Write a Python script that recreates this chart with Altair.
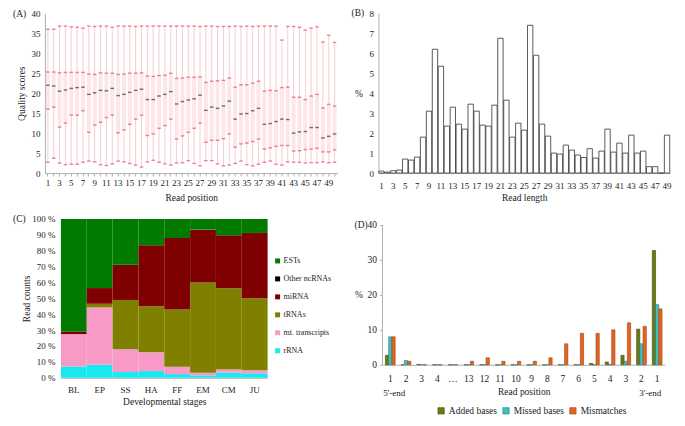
import altair as alt
import pandas as pd

FONT = "Liberation Serif"

# ---------------- Panel A: quality scores per read position ----------------
positions = list(range(1, 51))
q_max = [36.0, 36.0, 36.8, 36.8, 36.6, 36.5, 36.3, 36.8, 36.7, 36.8,
         36.8, 36.5, 36.8, 36.8, 36.8, 36.7, 36.8, 36.8, 36.8, 36.8,
         36.8, 36.8, 36.8, 36.8, 36.8, 36.8, 36.7, 36.8, 36.8, 36.7,
         36.7, 36.7, 36.8, 36.7, 36.8, 36.7, 36.8, 36.8, 36.8, 36.8,
         33.3, 36.7, 36.7, 36.5, 35.8, 36.3, 36.6, 32.8, 34.5, 32.7]
q_q3 = [25.3, 25.3, 25.1, 25.2, 25.2, 25.2, 25.2, 24.8, 24.7, 25.1,
        25.0, 25.0, 24.7, 24.8, 25.0, 25.0, 25.1, 24.3, 24.2, 24.4,
        24.5, 25.0, 23.7, 23.8, 24.0, 24.0, 24.1, 22.7, 23.0, 23.1,
        23.2, 23.8, 21.5, 22.1, 22.1, 22.5, 23.0, 20.5, 20.7, 20.6,
        21.4, 21.5, 19.0, 19.0, 18.4, 19.3, 19.7, 16.3, 17.2, 16.8]
q_med = [22.0, 21.8, 20.5, 20.8, 21.2, 21.4, 21.5, 19.7, 20.1, 20.7,
         20.6, 21.2, 19.4, 19.7, 20.2, 20.7, 21.0, 18.4, 18.4, 19.3,
         19.7, 20.4, 17.3, 17.9, 18.3, 18.6, 19.5, 15.7, 16.5, 16.2,
         16.8, 18.0, 13.5, 14.8, 14.9, 15.6, 16.2, 12.2, 12.4, 12.9,
         13.5, 13.4, 10.0, 10.3, 10.4, 11.4, 11.4, 8.8, 9.2, 9.8]
q_q1 = [16.0, 16.5, 11.5, 12.5, 14.5, 14.5, 15.6, 10.2, 12.0, 12.7,
        13.9, 14.5, 10.1, 10.8, 12.2, 13.5, 14.5, 9.4, 9.8, 11.2,
        11.9, 13.5, 8.5, 9.3, 10.2, 11.2, 12.5, 7.7, 8.2, 8.2,
        8.6, 9.8, 6.5, 7.3, 7.5, 7.9, 8.5, 6.0, 6.3, 6.7,
        6.9, 6.9, 5.5, 5.6, 5.9, 6.0, 6.2, 5.3, 5.3, 5.8]
q_min = [2.7, 3.7, 2.5, 2.1, 2.2, 2.2, 2.7, 3.0, 2.8, 2.1,
         1.9, 2.3, 3.0, 2.8, 2.4, 2.0, 1.5, 2.8, 3.2, 2.7,
         2.3, 2.0, 2.5, 2.6, 3.1, 2.4, 1.8, 3.1, 3.1, 2.3,
         1.8, 2.0, 2.4, 3.0, 2.1, 1.8, 2.2, 2.7, 3.0, 2.2,
         2.0, 2.8, 2.7, 2.7, 2.5, 2.6, 2.6, 2.8, 2.6, 2.7]

# ---------------- Panel B: read length distribution ----------------
lengths = list(range(1, 50))
length_pct = [0.1, 0.05, 0.12, 0.15, 0.7, 0.65, 0.8, 1.8, 3.1, 6.2,
              5.35, 2.35, 3.3, 2.45, 2.2, 3.45, 3.1, 2.4, 2.35, 3.4,
              6.75, 3.65, 1.8, 2.5, 2.15, 7.4, 5.9, 2.45, 1.85, 1.0,
              0.95, 1.4, 1.15, 0.9, 0.78, 1.22, 0.75, 1.1, 2.2, 1.05,
              1.5, 1.0, 1.9, 1.0, 1.1, 0.32, 0.32, 0.0, 1.9]

# ---------------- Panel C: read classes per developmental stage ----------------
stages = ["BL", "EP", "SS", "HA", "FF", "EM", "CM", "JU"]
classes = ["ESTs", "Other ncRNAs", "miRNA", "tRNAs", "mt. transcripts", "rRNA"]
class_colors = ["#007A00", "#000000", "#7F0000", "#808000", "#F79AC8", "#18E8F0"]
rRNA = [7.1, 8.2, 3.6, 4.2, 2.3, 1.5, 3.2, 2.8]
mt_transcripts = [20.4, 36.1, 14.4, 11.8, 4.7, 1.7, 2.0, 1.9]
tRNAs = [0.0, 2.3, 31.0, 29.0, 36.0, 56.8, 51.1, 45.3]
miRNA = [1.5, 9.9, 22.2, 38.4, 45.0, 33.3, 33.4, 41.2]
other_ncRNAs = [0.0, 0.0, 0.0, 0.0, 0.0, 0.0, 0.0, 0.0]
ESTs = [71.0, 43.5, 28.8, 16.6, 12.0, 6.7, 10.3, 8.8]

# ---------------- Panel D: modifications per read position ----------------
d_keys = ["a1", "a2", "a3", "a4", "a…", "b13", "b12", "b11", "b10", "b9",
          "b8", "b7", "b6", "b5", "b4", "b3", "b2", "b1"]
d_series = ["Added bases", "Missed bases", "Mismatches"]
d_colors = ["#6B7A12", "#40C0C0", "#E8641E"]
d_strokes = ["#3F4A08", "#1F7F7F", "#9A3E0E"]
added = [2.7, 0.0, 0.1, 0.0, 0.0, 0.0, 0.0, 0.0, 0.0, 0.0,
         0.0, 0.0, 0.0, 0.4, 0.8, 2.7, 10.2, 32.7]
missed = [8.0, 1.2, 0.0, 0.0, 0.0, 0.0, 0.0, 0.0, 0.0, 0.0,
          0.0, 0.0, 0.0, 0.0, 0.1, 1.0, 6.0, 17.2]
mismatches = [8.0, 1.0, 0.0, 0.0, 0.0, 1.0, 2.0, 1.0, 1.0, 1.0,
              2.0, 6.0, 9.0, 9.0, 10.0, 12.0, 11.0, 16.0]
end_keys = ["a1", "b1"]
end_labels = ["5'-end", "3'-end"]
end_dx = [4, -7]

AX = dict(labelFont=FONT, titleFont=FONT, titleFontSize=9.5,
          titleFontWeight="normal", labelColor="#222", titleColor="#222",
          domainColor="#B0B0B0", tickColor="#B0B0B0", grid=False)


def tag(text, dx, dy=0):
    return alt.Chart(pd.DataFrame({"t": [text]})).mark_text(
        font=FONT, fontSize=9.5, align="left", baseline="middle", color="#222"
    ).encode(text="t:N", x=alt.value(dx), y=alt.value(dy))


# ---- A ----
dfA = pd.DataFrame({"pos": positions, "mx": q_max, "q3": q_q3, "med": q_med,
                    "q1": q_q1, "mn": q_min})
xA = alt.X("pos:O", scale=alt.Scale(paddingInner=0, paddingOuter=0),
           axis=alt.Axis(labelAngle=0, labelOverlap=False, tickSize=3, labelPadding=2,
                         labelFontSize=9,
                         labelExpr="datum.value % 2 == 1 ? datum.label : ''",
                         title="Read position", titleY=24, titleBaseline="middle", **AX))
yA_axis = alt.Axis(values=list(range(0, 41, 5)), title="Quality scores", tickSize=0,
                   labelPadding=5, titleX=-23, titleBaseline="middle", labelFontSize=9,
                   labelOverlap=False, **AX)
yA_scale = alt.Scale(domain=[0, 40])
baseA = alt.Chart(dfA).encode(x=xA)
whisk = baseA.mark_rule(color="#F6C6CB", strokeWidth=0.9).encode(
    y=alt.Y("mn:Q", scale=yA_scale, axis=yA_axis), y2="mx:Q")
boxA = baseA.mark_bar(color="#FDE5E8", size=4).encode(
    y=alt.Y("q1:Q", scale=yA_scale, axis=yA_axis), y2="q3:Q")
redt = baseA.transform_fold(["mn", "q1", "q3", "mx"], as_=["stat", "val"]).mark_tick(
    color="#E5505E", thickness=1.4, size=3.5).encode(
    y=alt.Y("val:Q", scale=yA_scale, axis=yA_axis))
medt = baseA.mark_tick(color="#333333", thickness=1.4, size=3.5).encode(
    y=alt.Y("med:Q", scale=yA_scale, axis=yA_axis))
panelA = alt.layer(whisk, boxA, redt, medt, tag("(A)", -32, 1)).properties(width=293, height=160)

# ---- B ----
dfB = pd.DataFrame({"len": lengths, "pct": length_pct})
panelB = alt.layer(
    alt.Chart(dfB).mark_bar(fill="white", stroke="#333333", strokeWidth=0.8).encode(
        x=alt.X("len:O", scale=alt.Scale(paddingInner=0.1, paddingOuter=0.05),
                axis=alt.Axis(labelAngle=0, labelOverlap=False, tickSize=0, labelPadding=8,
                              labelFontSize=9,
                              labelExpr="datum.value % 2 == 1 ? datum.label : ''",
                              title="Read length", titleY=24, titleBaseline="middle", **AX)),
        y=alt.Y("pct:Q", scale=alt.Scale(domain=[0, 8]),
                axis=alt.Axis(values=list(range(0, 9)), title="%", tickSize=0,
                              labelPadding=5, titleAngle=0, titleX=-20, titleY=80,
                              titleAlign="center", titleBaseline="middle",
                              labelOverlap=False, labelFontSize=9, **AX))),
    tag("(B)", -27)
).properties(width=292, height=160)

# ---- C ----
C_SHIFT = 16
C_W = 207
rowsC = []
series_vals = {"rRNA": rRNA, "mt. transcripts": mt_transcripts, "tRNAs": tRNAs,
               "miRNA": miRNA, "Other ncRNAs": other_ncRNAs, "ESTs": ESTs}
stack_order = ["rRNA", "mt. transcripts", "tRNAs", "miRNA", "Other ncRNAs", "ESTs"]
for i, st in enumerate(stages):
    for k, cl in enumerate(stack_order):
        rowsC.append({"stage": st, "cls": cl, "val": series_vals[cl][i], "ord": k})
dfC = pd.DataFrame(rowsC)
panelC = alt.layer(
    alt.Chart(dfC).mark_bar().encode(
        x=alt.X("stage:N", sort=stages,
                scale=alt.Scale(paddingInner=0, paddingOuter=0,
                                range=[C_SHIFT, C_SHIFT + C_W]),
                axis=alt.Axis(labelAngle=0, tickSize=0, labelPadding=8, labelFontSize=9,
                              title="Developmental stages", titleY=24,
                              titleBaseline="middle", **AX)),
        y=alt.Y("sum(val):Q", stack="zero", scale=alt.Scale(domain=[0, 100]),
                axis=alt.Axis(values=list(range(0, 101, 10)), labelExpr="datum.value + ' %'",
                              title="Read counts", tickSize=0, domain=False, labelPadding=6,
                              labelOverlap=False, offset=-C_SHIFT,
                              labelFontSize=9, titleX=-34, titleBaseline="middle", **AX)),
        color=alt.Color("cls:N", scale=alt.Scale(domain=classes, range=class_colors),
                        legend=alt.Legend(title=None, orient="none",
                                          legendX=C_SHIFT + 213, legendY=38,
                                          symbolType="square", symbolSize=25,
                                          symbolStrokeWidth=0, labelFont=FONT,
                                          labelFontSize=8, labelColor="#222",
                                          rowPadding=10, labelOffset=2)),
        order=alt.Order("ord:Q")),
    tag("(C)", C_SHIFT - 48)
).properties(width=C_SHIFT + C_W, height=159)

# ---- D ----
D_H = 146
D_TOP = 40 * D_H / 140
rowsD = []
d_vals = {"Added bases": added, "Missed bases": missed, "Mismatches": mismatches}
for i, key in enumerate(d_keys):
    for s in d_series:
        rowsD.append({"key": key, "series": s, "val": d_vals[s][i]})
dfD = pd.DataFrame(rowsD)
xD_scale = alt.Scale(domain=d_keys, paddingInner=0.38, paddingOuter=0.19)
yD_scale = alt.Scale(domain=[0, D_TOP], nice=False)
xD_axis = alt.Axis(labelAngle=0, tickSize=0, labelPadding=9, labelFontSize=9.5,
                   labelExpr="substring(datum.label, 1)", labelOverlap=False,
                   title="Read position", titleY=27, titleBaseline="middle", **AX)
yD_axis = alt.Axis(values=[0, 10, 20, 30, 40], title="%", titleAngle=0, tickSize=3,
                   labelPadding=3, domain=False, titleX=-24, titleY=76,
                   titleAlign="center", titleBaseline="middle", labelOverlap=False,
                   labelFontSize=9.5, **AX)
barsD = alt.Chart(dfD).mark_bar(strokeWidth=0.6).encode(
    x=alt.X("key:N", scale=xD_scale, axis=xD_axis),
    xOffset=alt.XOffset("series:N", sort=d_series),
    y=alt.Y("val:Q", scale=yD_scale, axis=yD_axis),
    color=alt.Color("series:N", scale=alt.Scale(domain=d_series, range=d_colors),
                    legend=alt.Legend(title=None, orient="none", direction="horizontal",
                                      legendX=54, legendY=187,
                                      symbolType="square", symbolSize=40,
                                      symbolStrokeColor="#444", symbolStrokeWidth=0.6,
                                      labelFont=FONT, labelFontSize=9.5, labelColor="#222",
                                      columnPadding=4, labelOffset=3)),
    stroke=alt.Stroke("series:N", scale=alt.Scale(domain=d_series, range=d_strokes),
                      legend=None))
axisLineD = alt.Chart(pd.DataFrame({"val": [0], "hi": [40]})).mark_rule(
    color="#B0B0B0", strokeWidth=1).encode(
    x=alt.value(0), y=alt.Y("val:Q", scale=yD_scale, axis=yD_axis), y2="hi:Q")
endsD = alt.layer(*[
    alt.Chart(pd.DataFrame({"key": [end_keys[i]], "lab": [end_labels[i]]})).mark_text(
        font=FONT, fontSize=9, color="#222", baseline="middle", dx=end_dx[i]).encode(
        x=alt.X("key:N", scale=xD_scale, axis=xD_axis), y=alt.value(D_H + 28), text="lab:N")
    for i in range(2)])
panelD = alt.layer(barsD, axisLineD, endsD, tag("(D)", -28, 6)).properties(width=283, height=D_H)

top = alt.hconcat(panelA, panelB, spacing=14)
bottom = alt.hconcat(panelC, panelD, spacing=23).resolve_scale(color="independent",
                                                                 stroke="independent")
chart = alt.vconcat(top, bottom, spacing=12).properties(
    padding={"left": 5, "top": 0, "right": 5, "bottom": 5}
).resolve_scale(color="independent", stroke="independent").configure(
    font=FONT).configure_view(stroke=None).configure_legend(labelFont=FONT)

chart.save("out.html", embed_options={"renderer": "svg", "actions": False})
